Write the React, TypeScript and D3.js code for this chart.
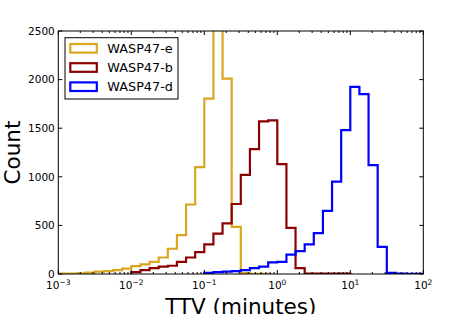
import React, { useEffect, useRef } from 'react';
import * as d3 from 'd3';

// histogram bins: 8 per decade from 1e-3 to 1e2
const binsPerDecade = 8;
const firstExp = -3;
const nBins = 40;

// counts per bin, each series starts at its own bin index
const eStart = 0;
const eCounts = [4, 4, 7, 14, 24, 30, 40, 55, 80, 100, 125, 170, 260, 400, 715, 1100, 1805, 2700, 2010, 485, 10, 2, 2];
const bStart = 8;
const bCounts = [20, 40, 60, 75, 85, 125, 170, 225, 305, 415, 520, 720, 1020, 1285, 1570, 1580, 1130, 475, 60, 3, 3, 3, 3, 3];
const dStart = 16;
const dCounts = [12, 20, 25, 30, 40, 60, 75, 120, 125, 200, 235, 305, 420, 650, 950, 1480, 1925, 1850, 1120, 280, 12, 3, 2, 2];

const seriesNames = ['WASP47-e', 'WASP47-b', 'WASP47-d'];
const seriesColors = ['#DAA520', '#8B0000', '#0000FF'];

const xTickExps = [-3, -2, -1, 0, 1, 2];
const yTicks = [0, 500, 1000, 1500, 2000, 2500];

const App: React.FC = () => {
  const svgRef = useRef<SVGSVGElement | null>(null);

  useEffect(() => {
    const svg = d3.select(svgRef.current);
    const width = 471;
    const height = 314;
    const margin = { top: 31, right: 47.7, bottom: 40, left: 58.3 };

    svg.selectAll('*').remove();

    const x = d3
      .scaleLog()
      .domain([1e-3, 1e2])
      .range([margin.left, width - margin.right]);
    const y = d3
      .scaleLinear()
      .domain([0, 2500])
      .range([height - margin.bottom, margin.top]);

    const edges = d3.range(nBins + 1).map((i) => Math.pow(10, firstExp + i / binsPerDecade));

    svg
      .append('defs')
      .append('clipPath')
      .attr('id', 'plot-clip')
      .append('rect')
      .attr('x', margin.left)
      .attr('y', margin.top)
      .attr('width', x.range()[1] - margin.left)
      .attr('height', y(0) - margin.top);

    const stepPath = (start: number, counts: number[]) => {
      const p = d3.path();
      p.moveTo(x(edges[start]), y(0));
      counts.forEach((c, i) => {
        p.lineTo(x(edges[start + i]), y(c));
        p.lineTo(x(edges[start + i + 1]), y(c));
      });
      p.lineTo(x(edges[start + counts.length]), y(0));
      return p.toString();
    };

    const series = [
      { start: eStart, counts: eCounts },
      { start: bStart, counts: bCounts },
      { start: dStart, counts: dCounts },
    ];

    const plot = svg.append('g').attr('clip-path', 'url(#plot-clip)');
    series.forEach((s, i) => {
      plot
        .append('path')
        .attr('d', stepPath(s.start, s.counts))
        .attr('fill', 'none')
        .attr('stroke', seriesColors[i])
        .attr('stroke-width', 2.2)
        .attr('stroke-linejoin', 'miter');
    });

    const x0 = margin.left;
    const x1 = x.range()[1];
    const y0 = y(0);
    const y1 = margin.top;
    const axes = svg.append('g').attr('stroke', 'black').attr('stroke-width', 1);

    // major + minor x ticks, top and bottom, pointing in
    xTickExps.forEach((e) => {
      const px = x(Math.pow(10, e));
      axes.append('line').attr('x1', px).attr('x2', px).attr('y1', y0).attr('y2', y0 - 4);
      axes.append('line').attr('x1', px).attr('x2', px).attr('y1', y1).attr('y2', y1 + 4);
      if (e < 2) {
        d3.range(2, 10).forEach((m) => {
          const mx = x(m * Math.pow(10, e));
          axes.append('line').attr('x1', mx).attr('x2', mx).attr('y1', y0).attr('y2', y0 - 2);
          axes.append('line').attr('x1', mx).attr('x2', mx).attr('y1', y1).attr('y2', y1 + 2);
        });
      }
    });
    yTicks.forEach((t) => {
      const py = y(t);
      axes.append('line').attr('x1', x0).attr('x2', x0 + 4).attr('y1', py).attr('y2', py);
      axes.append('line').attr('x1', x1).attr('x2', x1 - 4).attr('y1', py).attr('y2', py);
    });
    axes
      .append('rect')
      .attr('x', x0)
      .attr('y', y1)
      .attr('width', x1 - x0)
      .attr('height', y0 - y1)
      .attr('fill', 'none');

    const font = 'DejaVu Sans, sans-serif';

    // y tick labels
    svg
      .append('g')
      .selectAll('text')
      .data(yTicks)
      .join('text')
      .attr('x', x0 - 3.5)
      .attr('y', (d) => y(d))
      .attr('dy', '0.36em')
      .attr('text-anchor', 'end')
      .attr('font-family', font)
      .attr('font-size', 10.5)
      .text((d) => d);

    // x tick labels 10^n
    const xl = svg
      .append('g')
      .selectAll('text')
      .data(xTickExps)
      .join('text')
      .attr('x', (d) => x(Math.pow(10, d)))
      .attr('y', y0 + 15)
      .attr('text-anchor', 'middle')
      .attr('font-family', font)
      .attr('font-size', 10.5);
    xl.append('tspan').text('10');
    xl.append('tspan')
      .attr('dy', -4.5)
      .attr('font-size', 7.5)
      .text((d) => (d < 0 ? '\u2212' + -d : String(d)));

    // axis titles
    svg
      .append('text')
      .attr('transform', `translate(19.5,${(y0 + y1) / 2}) rotate(-90)`)
      .attr('text-anchor', 'middle')
      .attr('font-family', font)
      .attr('font-size', 21.5)
      .text('Count');
    svg
      .append('text')
      .attr('x', (x0 + x1) / 2)
      .attr('y', 314)
      .attr('text-anchor', 'middle')
      .attr('font-family', font)
      .attr('font-size', 21.5)
      .text('TTV (minutes)');

    // legend
    const lg = svg.append('g');
    lg.append('rect')
      .attr('x', 65)
      .attr('y', 37.7)
      .attr('width', 113)
      .attr('height', 61.3)
      .attr('fill', 'white')
      .attr('stroke', 'black')
      .attr('stroke-width', 1);
    seriesNames.forEach((name, i) => {
      const cy = 48.3 + i * 19.2;
      lg.append('rect')
        .attr('x', 70.3)
        .attr('y', cy - 4.3)
        .attr('width', 26.5)
        .attr('height', 8.6)
        .attr('fill', 'white')
        .attr('stroke', seriesColors[i])
        .attr('stroke-width', 2.2);
      lg.append('text')
        .attr('x', 107.3)
        .attr('y', cy)
        .attr('dy', '0.36em')
        .attr('font-family', font)
        .attr('font-size', 12.8)
        .text(name);
    });
  }, []);

  return (
    <div style={{ position: 'absolute', left: 0, top: 0 }}>
      <svg ref={svgRef} width={471} height={314} style={{ display: 'block' }}></svg>
    </div>
  );
};

export default App;
